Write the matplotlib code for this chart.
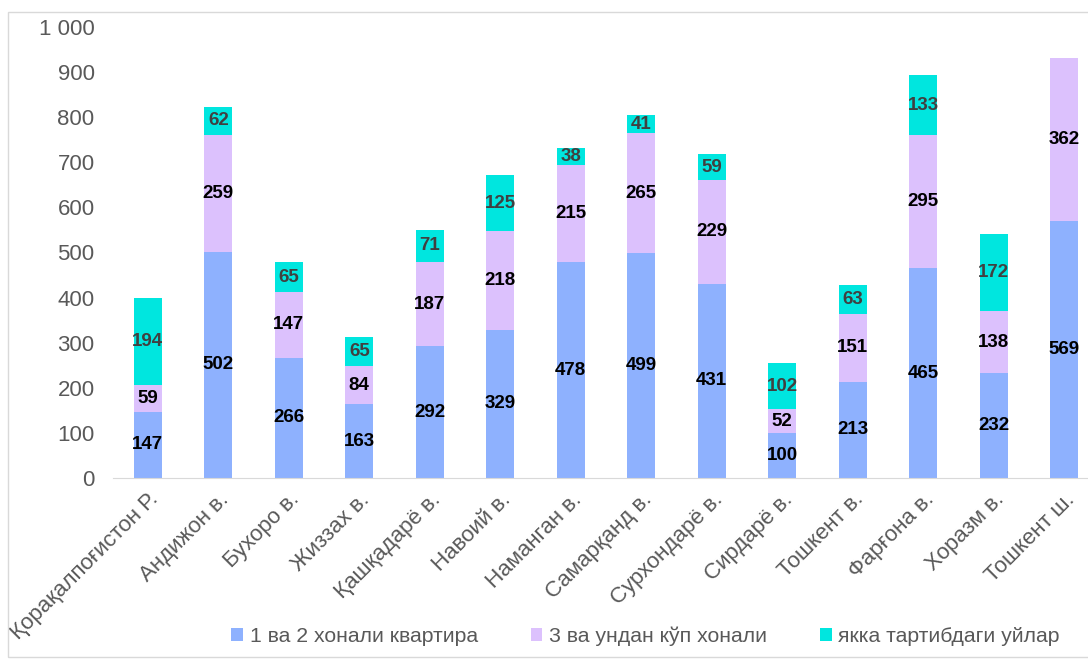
import numpy as np
import matplotlib.pyplot as plt
from matplotlib.patches import Rectangle

plt.rcParams['font.family'] = ['Liberation Sans', 'DejaVu Sans']

regions = ['Қорақалпоғистон Р.', 'Андижон в.', 'Бухоро в.', 'Жиззах в.', 'Қашқадарё в.',
           'Навоий в.', 'Наманган в.', 'Самарқанд в.', 'Сурхондарё в.', 'Сирдарё в.',
           'Тошкент в.', 'Фарғона в.', 'Хоразм в.', 'Тошкент ш.']
rooms_1_2 = [147, 502, 266, 163, 292, 329, 478, 499, 431, 100, 213, 465, 232, 569]
rooms_3_plus = [59, 259, 147, 84, 187, 218, 215, 265, 229, 52, 151, 295, 138, 362]
houses = [194, 62, 65, 65, 71, 125, 38, 41, 59, 102, 63, 133, 172, 0]

series = [
    ('1 ва 2 хонали квартира', rooms_1_2, '#8eb1fe', 'black'),
    ('3 ва ундан кўп хонали', rooms_3_plus, '#dcc1fd', 'black'),
    ('якка тартибдаги уйлар', houses, '#00e6df', '#404040'),
]

fig = plt.figure(figsize=(10.88, 6.6), dpi=100)
# plot area runs slightly past the right edge of the canvas
ax = fig.add_axes([0.1035, 0.276, 0.907, 0.683])

x = np.arange(len(regions))
bottom = np.zeros(len(regions))
for name, vals, color, txt in series:
    vals = np.array(vals, dtype=float)
    ax.bar(x, vals, 0.4, bottom=bottom, color=color, label=name, zorder=2)
    for xi, b, v in zip(x, bottom, vals):
        if v > 0:
            ax.text(xi, b + v / 2, f'{int(v)}', ha='center', va='center',
                    fontsize=13.5, fontweight='bold', color=txt, zorder=3)
    bottom += vals

ax.set_xlim(-0.5, len(regions) - 0.5)
ax.set_ylim(0, 1000)
ax.set_yticks(range(0, 1001, 100))
ax.set_yticklabels([f'{v:,}'.replace(',', ' ') for v in range(0, 1001, 100)])
ax.set_xticks(x)
ax.set_xticklabels(regions, rotation=45, ha='right', rotation_mode='anchor')
ax.tick_params(axis='both', length=0, labelsize=16, colors='#595959')
ax.tick_params(axis='y', pad=13)
ax.tick_params(axis='x', pad=8)
for s in ['top', 'right', 'left']:
    ax.spines[s].set_visible(False)
ax.spines['bottom'].set_color('#d9d9d9')

ax.legend(loc='center', bbox_to_anchor=(0.54, -0.352), ncol=3, frameon=False,
          fontsize=15.3, handlelength=0.55, handleheight=0.55, handletextpad=0.3,
          columnspacing=2.5, labelcolor='#595959')

fig.patches.append(Rectangle((8 / 1088, 0.005), 1.0, 1 - 12 / 660 - 0.005,
                             transform=fig.transFigure, fill=False,
                             edgecolor='#d9d9d9', linewidth=1))

fig.savefig('out.png', dpi=100, facecolor='white')
